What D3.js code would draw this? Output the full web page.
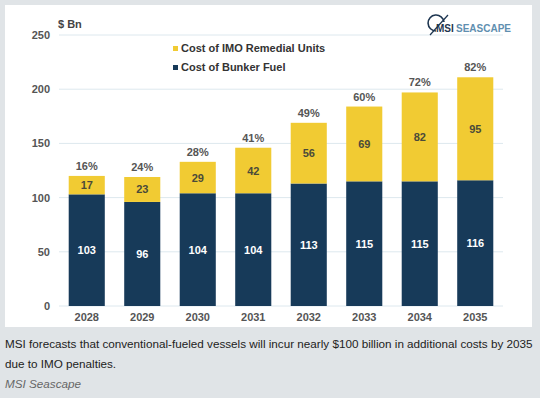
<!DOCTYPE html>
<html><head><meta charset="utf-8">
<script src="https://cdn.jsdelivr.net/npm/d3@7"></script>
<style>
body{margin:0;background:#e0e4e7;width:540px;height:398px;overflow:hidden;font-family:"Liberation Sans",Arial,sans-serif;}
#card{position:absolute;left:5px;top:5px;width:527px;height:322px;background:#fff;}
svg{position:absolute;left:0;top:0;}
.cap{position:absolute;left:5px;font-size:11.7px;color:#222;line-height:20px;white-space:nowrap;}
</style></head>
<body>
<div id="card"></div>
<svg id="chart" width="540" height="330"></svg>
<div class="cap" style="top:334px;">MSI forecasts that conventional-fueled vessels will incur nearly $100 billion in additional costs by 2035<br>due to IMO penalties.</div>
<div class="cap" style="top:374px;font-style:italic;color:#666;">MSI Seascape</div>
<script>
const years = ["2028","2029","2030","2031","2032","2033","2034","2035"];
const bunkerFuel = [103,96,104,104,113,115,115,116];
const imoRemedial = [17,23,29,42,56,69,82,95];
const pctLabels = ["16%","24%","28%","41%","49%","60%","72%","82%"];
const yTicks = [0,50,100,150,200,250];
const seriesNames = ["Cost of IMO Remedial Units","Cost of Bunker Fuel"];

const navy = "#173a59", yellow = "#f1cb33";
const svg = d3.select("#chart");
const x = d3.scaleBand().domain(years).range([59,503]).paddingInner(0.35).paddingOuter(0.175);
const y = d3.scaleLinear().domain([0,250]).range([306,35]);

// gridlines
svg.append("g").selectAll("line").data(yTicks).join("line")
  .attr("x1",59).attr("x2",503).attr("y1",d=>y(d)).attr("y2",d=>y(d))
  .attr("stroke","#dde8ee").attr("stroke-width",1);

// y axis labels
const yAxis = d3.axisLeft(y).tickValues(yTicks).tickSize(0).tickPadding(0);
const gy = svg.append("g").attr("transform","translate(50,0)").call(yAxis);
gy.select(".domain").remove();
gy.selectAll("text").attr("font-size",11).attr("font-weight","bold").attr("fill","#555").attr("font-family","Liberation Sans, Arial, sans-serif");

// x axis labels
const xAxis = d3.axisBottom(x).tickSize(0).tickPadding(0);
const gx = svg.append("g").attr("transform","translate(0,313)").call(xAxis);
gx.select(".domain").remove();
gx.selectAll("text").attr("font-size",11).attr("font-weight","bold").attr("fill","#555").attr("font-family","Liberation Sans, Arial, sans-serif");

svg.append("text").attr("x",58).attr("y",28).attr("font-size",11).attr("font-weight","bold").attr("fill","#444").text("$ Bn");

// bars
const bw = x.bandwidth();
svg.append("g").selectAll("rect").data(years).join("rect")
  .attr("x",d=>x(d)).attr("width",bw)
  .attr("y",(d,i)=>y(bunkerFuel[i])).attr("height",(d,i)=>y(0)-y(bunkerFuel[i]))
  .attr("fill",navy);
svg.append("g").selectAll("rect").data(years).join("rect")
  .attr("x",d=>x(d)).attr("width",bw)
  .attr("y",(d,i)=>y(bunkerFuel[i]+imoRemedial[i])).attr("height",(d,i)=>y(bunkerFuel[i])-y(bunkerFuel[i]+imoRemedial[i]))
  .attr("fill",yellow);

// value labels
svg.append("g").selectAll("text").data(years).join("text")
  .attr("x",d=>x(d)+bw/2).attr("y",(d,i)=>(y(0)+y(bunkerFuel[i]))/2+4)
  .attr("text-anchor","middle").attr("font-size",11).attr("font-weight","bold").attr("fill","#fff")
  .text((d,i)=>bunkerFuel[i]);
svg.append("g").selectAll("text").data(years).join("text")
  .attr("x",d=>x(d)+bw/2).attr("y",(d,i)=>(y(bunkerFuel[i])+y(bunkerFuel[i]+imoRemedial[i]))/2+4)
  .attr("text-anchor","middle").attr("font-size",11).attr("font-weight","bold").attr("fill","#4a4a3a")
  .text((d,i)=>imoRemedial[i]);
svg.append("g").selectAll("text").data(years).join("text")
  .attr("x",d=>x(d)+bw/2).attr("y",(d,i)=>y(bunkerFuel[i]+imoRemedial[i])-6)
  .attr("text-anchor","middle").attr("font-size",11).attr("font-weight","bold").attr("fill","#555")
  .text((d,i)=>pctLabels[i]);

// legend
const lg = svg.append("g");
[yellow,navy].forEach((c,i)=>{
  lg.append("rect").attr("x",173).attr("y",46+i*19).attr("width",5).attr("height",5).attr("fill",c);
  lg.append("text").attr("x",181).attr("y",52+i*19).attr("font-size",11).attr("font-weight","bold").attr("fill","#333").text(seriesNames[i]);
});

// logo
const logo = svg.append("g");
logo.append("path").attr("d","M436,31 A8,8 0 1 1 444,22").attr("fill","none").attr("stroke","#1d3550").attr("stroke-width",1.6);
logo.append("line").attr("x1",430).attr("y1",35).attr("x2",448).attr("y2",15).attr("stroke","#1d3550").attr("stroke-width",1.2);
logo.append("text").attr("x",436).attr("y",32).attr("font-size",10).attr("font-weight","bold").attr("fill","#1d3550").text("MSI");
logo.append("text").attr("x",456).attr("y",32).attr("font-size",10).attr("font-weight","bold").attr("fill","#5f8fb0").text("SEASCAPE");
</script>
</body></html>
